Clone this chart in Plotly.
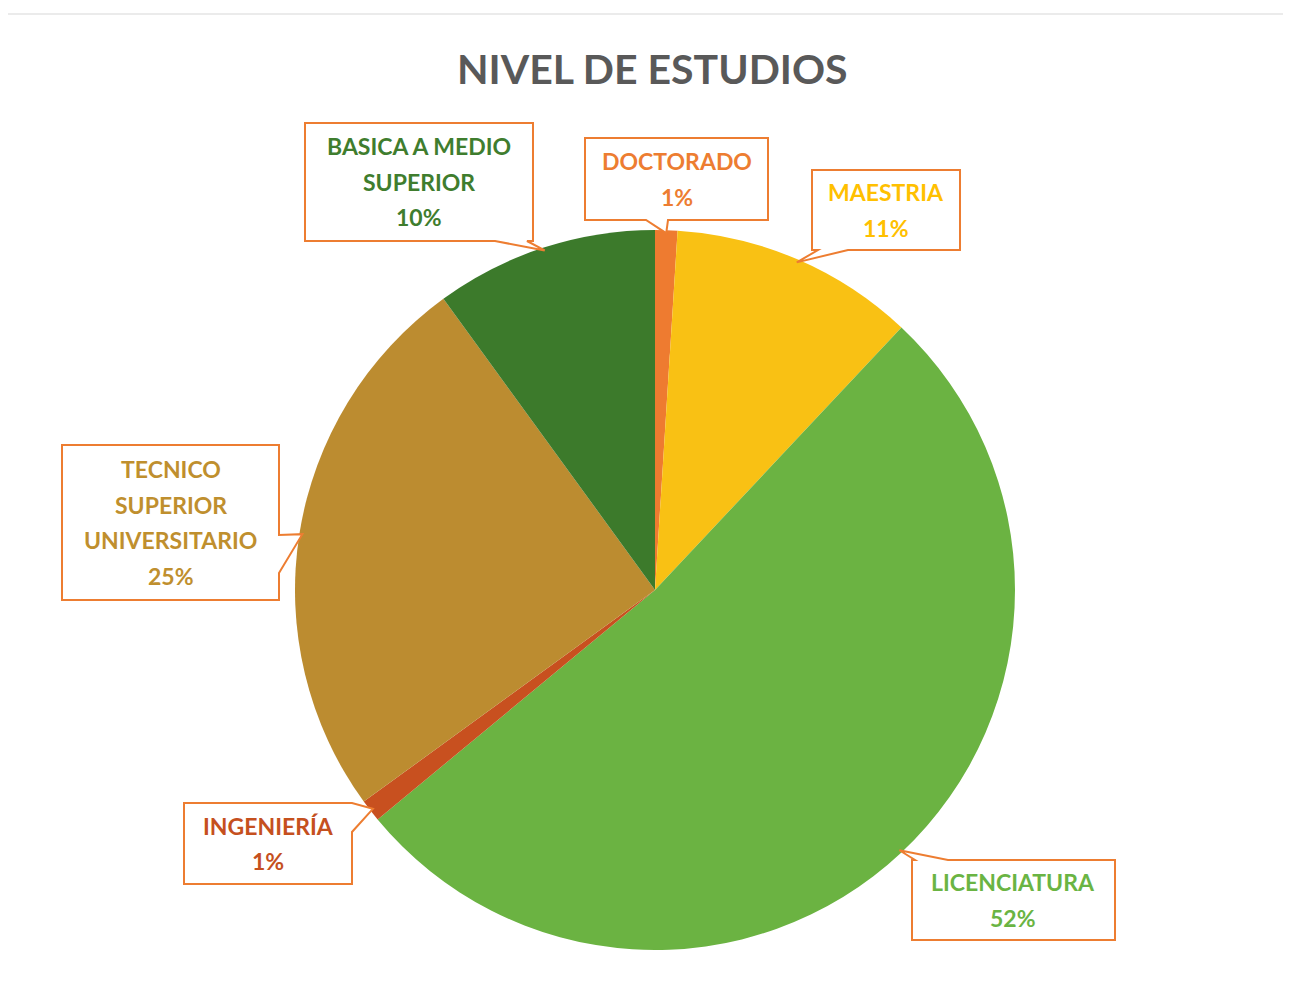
import math
import plotly.graph_objects as go

# datos
categorias = ["DOCTORADO", "MAESTRIA", "LICENCIATURA", "INGENIERÍA",
              "TECNICO SUPERIOR UNIVERSITARIO", "BASICA A MEDIO SUPERIOR"]
porcentajes = [1, 11, 52, 1, 25, 10]
lineas_etiqueta = [["DOCTORADO"], ["MAESTRIA"], ["LICENCIATURA"], ["INGENIERÍA"],
                   ["TECNICO", "SUPERIOR", "UNIVERSITARIO"], ["BASICA A MEDIO", "SUPERIOR"]]
colores = ["#EE7B30", "#F9C114", "#6BB342", "#C8501F", "#BC8C30", "#3C7A2B"]
colores_texto = ["#ED7D31", "#FFC000", "#6AB443", "#C5501E", "#BF8F2E", "#3F7D2E"]

# la página tiene un margen de 8 px alrededor de la figura
OFF = 8
W, H = 1291 - 2 * OFF, 985 - 2 * OFF
CX, CY, R = 655, 590, 360
BORDE = "#ED7D31"

# cajas de las llamadas (px de la ventana): x0, y0, x1, y1, lado del puntero, base del puntero
cajas = [
    (585, 138, 768, 220, "bottom", (646, 668)),
    (812, 170, 960, 250, "bottom", (818, 848)),
    (912, 860, 1115, 940, "top", (915, 948)),
    (184, 803, 352, 884, "right", (803, 832)),
    (62, 445, 279, 600, "right", (535, 573)),
    (305, 123, 533, 241, "bottom", (495, 527)),
]


def px(x):
    return (x - OFF) / W


def py(y):
    return 1 - (y - OFF) / H


fig = go.Figure()
fig.add_trace(go.Pie(
    labels=categorias, values=porcentajes, sort=False, direction="clockwise",
    rotation=0, textinfo="none", hoverinfo="label+percent",
    marker=dict(colors=colores, line=dict(width=0)),
    domain=dict(x=[px(CX - R), px(CX + R)], y=[py(CY + R), py(CY - R)]),
    showlegend=False,
))

total = sum(porcentajes)
acum = 0
shapes = []
annotations = []
for i, v in enumerate(porcentajes):
    ang = 2 * math.pi * (acum + v / 2) / total
    acum += v
    tx = CX + (R - 3) * math.sin(ang)
    ty = CY - (R - 3) * math.cos(ang)
    x0, y0, x1, y1, lado, (a, b) = cajas[i]
    if lado == "bottom":
        pts = [(x0, y0), (x1, y0), (x1, y1), (b, y1), (tx, ty), (a, y1), (x0, y1)]
    elif lado == "top":
        pts = [(x0, y0), (a, y0), (tx, ty), (b, y0), (x1, y0), (x1, y1), (x0, y1)]
    else:
        pts = [(x0, y0), (x1, y0), (x1, a), (tx, ty), (x1, b), (x1, y1), (x0, y1)]
    path = "M " + " L ".join(f"{px(x):.5f},{py(y):.5f}" for x, y in pts) + " Z"
    shapes.append(dict(type="path", path=path, xref="paper", yref="paper",
                       fillcolor="white", line=dict(color=BORDE, width=2)))

    lineas = lineas_etiqueta[i] + [f"{v}%"]
    paso = 35.5
    yc = (y0 + y1) / 2
    for k, t in enumerate(lineas):
        yy = yc + (k - (len(lineas) - 1) / 2) * paso
        annotations.append(dict(
            text=f"<b>{t}</b>", x=px((x0 + x1) / 2), y=py(yy), xref="paper", yref="paper",
            showarrow=False, xanchor="center", yanchor="middle",
            font=dict(family="Lato", size=23, color=colores_texto[i]),
        ))

annotations.append(dict(
    text="<b>NIVEL DE ESTUDIOS</b>", x=px(652), y=py(68), xref="paper", yref="paper",
    showarrow=False, xanchor="center", yanchor="middle",
    font=dict(family="Lato", size=41, color="#595959"),
))

# borde superior del escaneo
shapes.insert(0, dict(type="line", x0=0, x1=1, y0=py(14), y1=py(14), xref="paper", yref="paper",
                      line=dict(color="#EBEBEB", width=2)))

fig.update_layout(
    width=W, height=H,
    margin=dict(l=0, r=0, t=0, b=0),
    paper_bgcolor="white", plot_bgcolor="white",
    shapes=shapes, annotations=annotations,
)

fig.write_html("out.html")
